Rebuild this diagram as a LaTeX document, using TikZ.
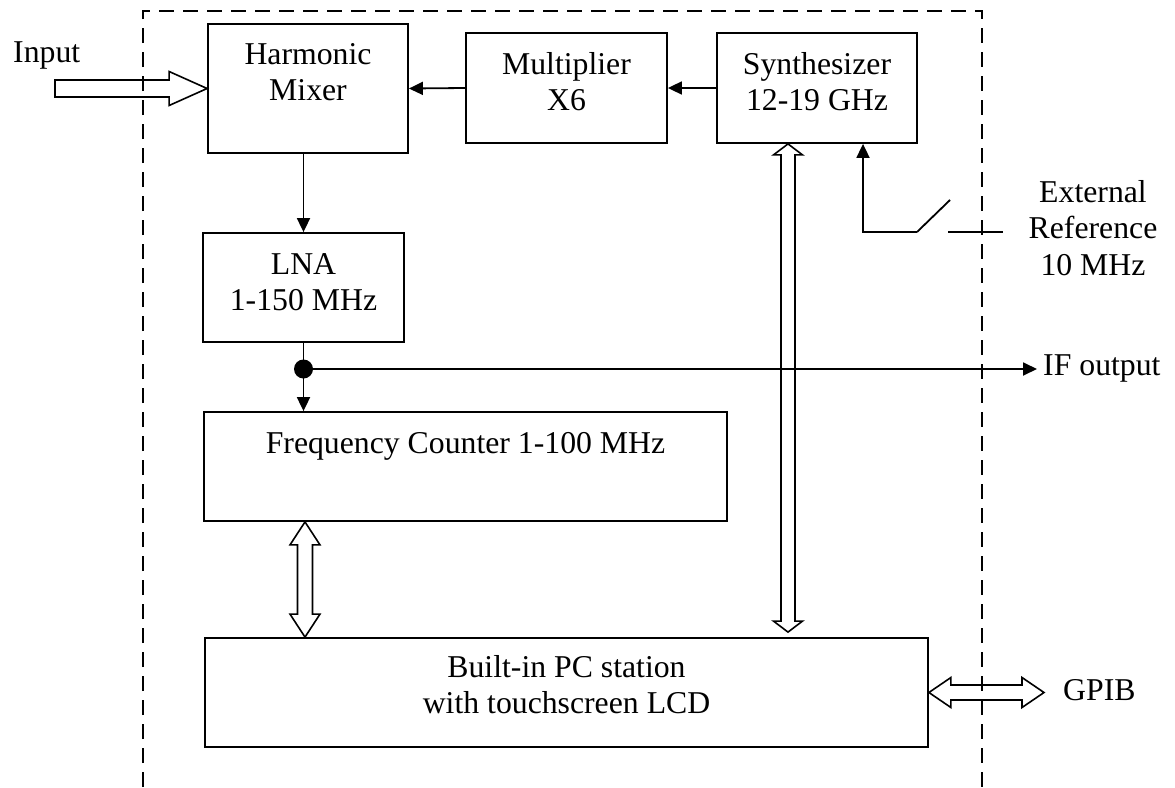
\documentclass[tikz,border=0pt]{standalone}
\usepackage{fontspec}
\setmainfont{Liberation Serif}
\usetikzlibrary{arrows.meta,calc}
\newcommand\mytab[1]{\begin{tabular}[t]{@{}c@{}}#1\end{tabular}}
% vertical hollow double arrow: #1 top tip, #2 bottom tip, #3 shaft half, #4 head half, #5 head length
\newcommand\vdarrow[5]{%
  \draw[hollow] (#1) -- ($(#1)+(#4,#5)$) -- ($(#1)+(#3,#5)$) -- ($(#2)+(#3,-#5)$) -- ($(#2)+(#4,-#5)$) -- (#2)
   -- ($(#2)+(-#4,-#5)$) -- ($(#2)+(-#3,-#5)$) -- ($(#1)+(-#3,#5)$) -- ($(#1)+(-#4,#5)$) -- cycle;}
% horizontal hollow double arrow: #1 left tip, #2 right tip
\newcommand\hdarrow[5]{%
  \draw[hollow] (#1) -- ($(#1)+(#5,-#4)$) -- ($(#1)+(#5,-#3)$) -- ($(#2)+(-#5,-#3)$) -- ($(#2)+(-#5,-#4)$) -- (#2)
   -- ($(#2)+(-#5,#4)$) -- ($(#2)+(-#5,#3)$) -- ($(#1)+(#5,#3)$) -- ($(#1)+(#5,#4)$) -- cycle;}
\tikzset{
  box/.style={draw, rectangle, line width=1.8pt, inner sep=0pt},
  lbl/.style={inner sep=0pt, anchor=base},
  arr/.style={line width=1.8pt, -{Triangle[length=14pt,width=13pt]}},
  wire/.style={line width=1.8pt},
  hollow/.style={draw, line width=1.6pt, line join=miter},
  frame/.style={line width=1.8pt, dash pattern=on 15pt off 9pt},
}
\begin{document}
\begin{tikzpicture}[x=1pt, y=-1pt, font=\fontsize{31.75}{36.5}\selectfont]
\useasboundingbox (0,0) rectangle (1175,787);

% dashed enclosure
\draw[frame] (143,787) -- (143,11) -- (982,11) -- (982,787);

% boxes
\node[box, minimum width=200pt, minimum height=129pt] (mixer) at (308,88.5) {};
\node[box, minimum width=201pt, minimum height=110pt] (mult)  at (566.5,88) {};
\node[box, minimum width=200pt, minimum height=110pt] (synth) at (817,88) {};
\node[box, minimum width=201pt, minimum height=109pt] (lna)   at (303.5,287.5) {};
\node[box, minimum width=523pt, minimum height=109pt] (fc)    at (465.5,466.5) {};
\node[box, minimum width=723pt, minimum height=109pt] (pc)    at (566.5,692.5) {};

% texts
\node[lbl] (mixer-t) at (308,64) {\mytab{Harmonic\\Mixer}};
\node[lbl] (mult-t)  at (566.5,74) {\mytab{Multiplier\\X6}};
\node[lbl] (synth-t) at (817,74) {\mytab{Synthesizer\\12-19 GHz}};
\node[lbl] (lna-t)   at (303.5,274) {\mytab{LNA\\1-150 MHz}};
\node[lbl] (fc-t)    at (465.5,453) {Frequency Counter 1-100 MHz};
\node[lbl] (pc-t)    at (566.5,677) {\mytab{Built-in PC station\\with touchscreen LCD}};
\node[lbl] (ext)     at (1093,202) {\mytab{External\\Reference\\10 MHz}};
\node[lbl, anchor=base west] (input) at (13,62) {Input};
\node[lbl, anchor=base west] (ifout) at (1043,375) {IF output};
\node[lbl, anchor=base west] (gpib)  at (1063,700) {GPIB};

% signal arrows
\draw[arr] (synth.west) -- (mult.east);
\draw[arr] (mult.west) -- (mixer.east);
\draw[arr] (lna.north |- mixer.south) -- (lna.north);

% junction and IF output
\node[circle, fill=black, inner sep=0pt, minimum size=19pt] (j) at (lna.south |- 0,369) {};
\coordinate (iftip) at (1037,369);
\draw[wire] (lna.south) -- (j.center);
\draw[arr] (j.center) -- (j.center |- fc.north);
\draw[arr] (j.center) -- (iftip);

% external reference with switch
\coordinate (refx) at (synth.south -| 863,0);
\coordinate (sw1) at (917,232);
\coordinate (sw2) at (950,200);
\coordinate (ref1) at (948,232);
\coordinate (ref2) at (1003,232);
\draw[arr] (sw1) -- (sw1 -| refx) -- (refx);
\draw[wire] (sw1) -- (sw2);
\draw[wire] (ref1) -- (ref2);

% hollow input arrow
\coordinate (intail) at (55,88.5);
\draw[hollow] ($(intail)+(0,-8.5)$) -- ($(mixer.west)+(-38,-8.5)$) -- ($(mixer.west)+(-38,-17)$) -- (mixer.west)
  -- ($(mixer.west)+(-38,17)$) -- ($(mixer.west)+(-38,8.5)$) -- ($(intail)+(0,8.5)$) -- cycle;

% hollow bus arrows
\coordinate (fca) at (fc.south -| 305,0);
\coordinate (fcb) at (pc.north -| 305,0);
\vdarrow{fca}{fcb}{7.5}{15}{23}

\coordinate (sa) at (synth.south -| 788,0);
\coordinate (sb) at ($(pc.north -| 788,0)+(0,-5)$);
\vdarrow{sa}{sb}{7}{14.5}{11}

\coordinate (ga) at (pc.east);
\coordinate (gb) at (1044,692.5);
\hdarrow{ga}{gb}{7.5}{15}{22}
\end{tikzpicture}
\end{document}
